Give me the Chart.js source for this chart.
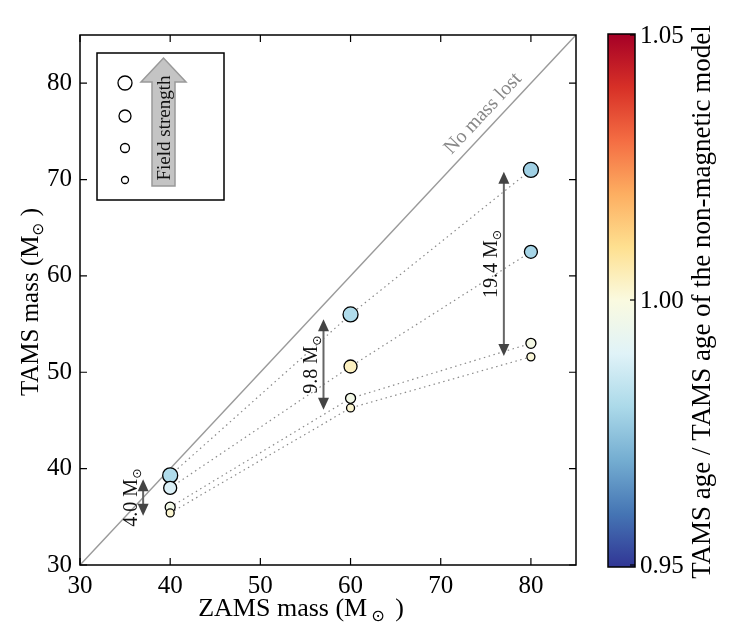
<!DOCTYPE html>
<html>
<head>
<meta charset="utf-8">
<script src="https://cdn.jsdelivr.net/npm/chart.js@4.4.1/dist/chart.umd.min.js"></script>
<style>
  html, body { margin: 0; padding: 0; background: #fff; }
  #wrap { width: 732px; height: 642px; }
</style>
</head>
<body>
<div id="wrap"><canvas id="graf"></canvas></div>
<script>
/* Datos */
const zamsMass = [40, 60, 80]
const tamsStrongest = [39.3, 56.0, 71.0]
const tamsStrong = [38.0, 50.6, 62.5]
const tamsWeak = [36.0, 47.3, 53.0]
const tamsWeakest = [35.4, 46.3, 51.6]
// TAMS age / TAMS age del modelo no magnetico
const ageStrongest = [0.981, 0.981, 0.978]
const ageStrong = [0.989, 1.004, 0.979]
const ageWeak = [0.997, 0.997, 0.998]
const ageWeakest = [1.002, 1.002, 1.001]
const pointSizes = [7.5, 6.5, 5, 4]
const massTicks = [30, 40, 50, 60, 70, 80]
const ageTicks = [0.95, 1.00, 1.05]
// flechas de masa perdida
const arrowX = [37, 57, 77]
const arrowLow = [35.1, 46.1, 51.7]
const arrowHigh = [38.9, 55.5, 70.8]
const arrowLabels = ['4.0', '9.8', '19.4']
const noLossLine = [30, 85]

const SERIF = "'Liberation Serif', 'Times New Roman', Tinos, serif"
const rdylbu = ['#313695', '#4575b4', '#74add1', '#abd9e9', '#e0f3f8', '#fafae0',
    '#fee090', '#fdae61', '#f46d43', '#d73027', '#a50026']

function hexRgb(h) {
    return [parseInt(h.slice(1, 3), 16), parseInt(h.slice(3, 5), 16), parseInt(h.slice(5, 7), 16)]
}

function Cmap(v) {
    let t = Math.min(1, Math.max(0, (v - ageTicks[0]) / (ageTicks[2] - ageTicks[0])))
    let s = t * (rdylbu.length - 1)
    let i = Math.min(rdylbu.length - 2, Math.floor(s))
    let f = s - i
    let a = hexRgb(rdylbu[i]), b = hexRgb(rdylbu[i + 1])
    let c = a.map((x, k) => Math.round(x + (b[k] - x) * f))
    return `rgb(${c[0]},${c[1]},${c[2]})`
}

function Puntos(ys) {
    return zamsMass.map((x, i) => ({ x: x, y: ys[i] }))
}

// texto con M_sun en subindice, centrado en (0,0)
function TextoMsun(ctx, pre, post, size, color, gap) {
    gap = gap || 0
    ctx.font = `${size}px ${SERIF}`
    let w1 = ctx.measureText(pre + 'M').width + gap
    let w3 = ctx.measureText(post).width
    ctx.font = `${size * 0.62}px 'DejaVu Sans', ${SERIF}`
    let w2 = ctx.measureText('\u2299').width + gap
    let total = w1 + w2 + w3
    let x = -total / 2
    ctx.fillStyle = color
    ctx.textAlign = 'left'
    ctx.textBaseline = 'alphabetic'
    ctx.font = `${size}px ${SERIF}`
    ctx.fillText(pre + 'M', x, size * 0.33)
    ctx.font = `${size * 0.62}px 'DejaVu Sans', ${SERIF}`
    ctx.fillText('\u2299', x + w1, size * 0.33 + size * 0.2)
    ctx.font = `${size}px ${SERIF}`
    ctx.fillText(post, x + w1 + w2, size * 0.33)
}

function Flecha(ctx, x, y0, y1, hw, hl, color, shaft) {
    ctx.strokeStyle = shaft
    ctx.lineWidth = 2
    ctx.beginPath()
    ctx.moveTo(x, y0 - hl + 1)
    ctx.lineTo(x, y1 + hl - 1)
    ctx.stroke()
    ctx.fillStyle = color
    ctx.beginPath()
    ctx.moveTo(x, y1); ctx.lineTo(x - hw, y1 + hl); ctx.lineTo(x + hw, y1 + hl); ctx.closePath()
    ctx.fill()
    ctx.beginPath()
    ctx.moveTo(x, y0); ctx.lineTo(x - hw, y0 - hl); ctx.lineTo(x + hw, y0 - hl); ctx.closePath()
    ctx.fill()
}

const marcoPlugin = {
    id: 'marco',
    afterDatasetsDraw(chart) {
        const ctx = chart.ctx
        const a = chart.chartArea
        const xs = chart.scales.x, ys = chart.scales.y, cb = chart.scales.cb
        ctx.save()
        // flechas de masa perdida
        for (let i = 0; i < arrowX.length; i++) {
            let px = xs.getPixelForValue(arrowX[i])
            let pLow = ys.getPixelForValue(arrowLow[i])
            let pHigh = ys.getPixelForValue(arrowHigh[i])
            Flecha(ctx, px, pLow, pHigh, 5.5, 12, '#444', '#666')
            ctx.save()
            ctx.translate(px - 13, (pLow + pHigh) / 2)
            ctx.rotate(-Math.PI / 2)
            TextoMsun(ctx, arrowLabels[i] + ' ', '', 20, '#111')
            ctx.restore()
        }
        // texto de la diagonal
        let p0x = xs.getPixelForValue(noLossLine[0]), p0y = ys.getPixelForValue(noLossLine[0])
        let p1x = xs.getPixelForValue(noLossLine[1]), p1y = ys.getPixelForValue(noLossLine[1])
        let ang = Math.atan2(p1y - p0y, p1x - p0x)
        ctx.save()
        ctx.translate(xs.getPixelForValue(75.8) - 10, ys.getPixelForValue(75.8) - 10)
        ctx.rotate(ang)
        ctx.font = `20px ${SERIF}`
        ctx.fillStyle = '#888'
        ctx.textAlign = 'center'
        ctx.textBaseline = 'middle'
        ctx.fillText('No mass lost', 0, 0)
        ctx.restore()

        // marco y ticks hacia dentro
        ctx.strokeStyle = '#000'
        ctx.lineWidth = 1.5
        ctx.strokeRect(a.left, a.top, a.right - a.left, a.bottom - a.top)
        ctx.lineWidth = 1.2
        ctx.beginPath()
        massTicks.forEach(v => {
            let px = xs.getPixelForValue(v)
            ctx.moveTo(px, a.bottom); ctx.lineTo(px, a.bottom - 7)
            ctx.moveTo(px, a.top); ctx.lineTo(px, a.top + 7)
            let py = ys.getPixelForValue(v)
            ctx.moveTo(a.left, py); ctx.lineTo(a.left + 7, py)
            ctx.moveTo(a.right, py); ctx.lineTo(a.right - 7, py)
        })
        ctx.stroke()

        // leyenda de campo
        ctx.lineWidth = 1.5
        ctx.strokeRect(97, 53, 127, 147)
        let ly = [83, 116, 148, 180]
        ly.forEach((y, i) => {
            ctx.beginPath()
            ctx.arc(125, y, pointSizes[i] - 0.5, 0, Math.PI * 2)
            ctx.fillStyle = '#fff'
            ctx.fill()
            ctx.lineWidth = 1.3
            ctx.stroke()
        })
        ctx.beginPath()
        ctx.moveTo(152, 186); ctx.lineTo(152, 82); ctx.lineTo(141, 82); ctx.lineTo(163.5, 58)
        ctx.lineTo(186, 82); ctx.lineTo(175, 82); ctx.lineTo(175, 186); ctx.closePath()
        ctx.fillStyle = '#c4c4c4'
        ctx.fill()
        ctx.strokeStyle = '#999'
        ctx.lineWidth = 1.5
        ctx.stroke()
        ctx.save()
        ctx.translate(164, 128)
        ctx.rotate(-Math.PI / 2)
        ctx.font = `19px ${SERIF}`
        ctx.fillStyle = '#111'
        ctx.textAlign = 'center'
        ctx.textBaseline = 'middle'
        ctx.fillText('Field strength', 0, 1)
        ctx.restore()

        // barra de color
        let cTop = cb.getPixelForValue(ageTicks[2]) - 1
        let cBot = cb.getPixelForValue(ageTicks[0]) + 2
        let grad = ctx.createLinearGradient(0, cBot, 0, cTop)
        rdylbu.forEach((c, i) => grad.addColorStop(i / (rdylbu.length - 1), c))
        ctx.fillStyle = grad
        ctx.fillRect(608, cTop, 27, cBot - cTop)
        ctx.strokeStyle = '#000'
        ctx.lineWidth = 1.5
        ctx.strokeRect(608, cTop, 27, cBot - cTop)
        ctx.font = `25px ${SERIF}`
        ctx.fillStyle = '#000'
        ctx.textAlign = 'left'
        ctx.textBaseline = 'middle'
        ageTicks.forEach(v => {
            let py = cb.getPixelForValue(v)
            ctx.lineWidth = 1.2
            ctx.beginPath(); ctx.moveTo(635, py); ctx.lineTo(630, py); ctx.stroke()
            ctx.fillText(v.toFixed(2), 640, py + 1)
        })
        ctx.save()
        ctx.translate(703, 302)
        ctx.rotate(-Math.PI / 2)
        ctx.font = `27px ${SERIF}`
        ctx.textAlign = 'center'
        ctx.textBaseline = 'middle'
        ctx.fillText('TAMS age / TAMS age of the non-magnetic model', 0, 0)
        ctx.restore()

        // titulos de los ejes
        ctx.save()
        ctx.translate(301, 607)
        TextoMsun(ctx, 'ZAMS mass (', ' )', 26, '#000', 4)
        ctx.restore()
        ctx.save()
        ctx.translate(30, 302)
        ctx.rotate(-Math.PI / 2)
        TextoMsun(ctx, 'TAMS mass (', ' )', 25, '#000')
        ctx.restore()
        ctx.restore()
    }
}

function Linea(ys) {
    return {
        data: Puntos(ys), showLine: true, pointRadius: 0, borderColor: '#8a8a8a',
        borderWidth: 1.2, borderDash: [1.5, 3.5], order: 5
    }
}

function Serie(ys, ages, r) {
    return {
        data: Puntos(ys), showLine: false, pointRadius: r, pointBorderColor: '#000',
        pointBorderWidth: 1.3, pointBackgroundColor: ages.map(Cmap), order: 1
    }
}

let graf = new Chart('graf', {
    type: 'scatter',
    data: {
        datasets: [
            {
                data: noLossLine.map(v => ({ x: v, y: v })), showLine: true, pointRadius: 0,
                borderColor: '#9a9a9a', borderWidth: 1.5, order: 6
            },
            Linea(tamsStrongest), Linea(tamsStrong), Linea(tamsWeak), Linea(tamsWeakest),
            Serie(tamsWeakest, ageWeakest, pointSizes[3]),
            Serie(tamsWeak, ageWeak, pointSizes[2]),
            Serie(tamsStrong, ageStrong, pointSizes[1]),
            Serie(tamsStrongest, ageStrongest, pointSizes[0])
        ]
    },
    options: {
        responsive: true,
        maintainAspectRatio: false,
        animation: false,
        layout: { padding: { top: 35, right: 156, left: 0, bottom: 0 } },
        plugins: { legend: { display: false }, tooltip: { enabled: false } },
        scales: {
            x: {
                type: 'linear', min: 30, max: 85,
                afterFit: s => { s.height = 77 },
                afterBuildTicks: s => { s.ticks = massTicks.map(v => ({ value: v })) },
                grid: { display: false, drawTicks: false },
                border: { display: false },
                ticks: { color: '#000', padding: 6, font: { family: SERIF, size: 25 } }
            },
            y: {
                type: 'linear', min: 30, max: 85,
                afterFit: s => { s.width = 80 },
                afterBuildTicks: s => { s.ticks = massTicks.map(v => ({ value: v })) },
                grid: { display: false, drawTicks: false },
                border: { display: false },
                ticks: { color: '#000', padding: 8, font: { family: SERIF, size: 25 } }
            },
            cb: {
                type: 'linear', display: false, position: 'right',
                min: ageTicks[0], max: ageTicks[2]
            }
        }
    },
    plugins: [marcoPlugin]
})
</script>
</body>
</html>
